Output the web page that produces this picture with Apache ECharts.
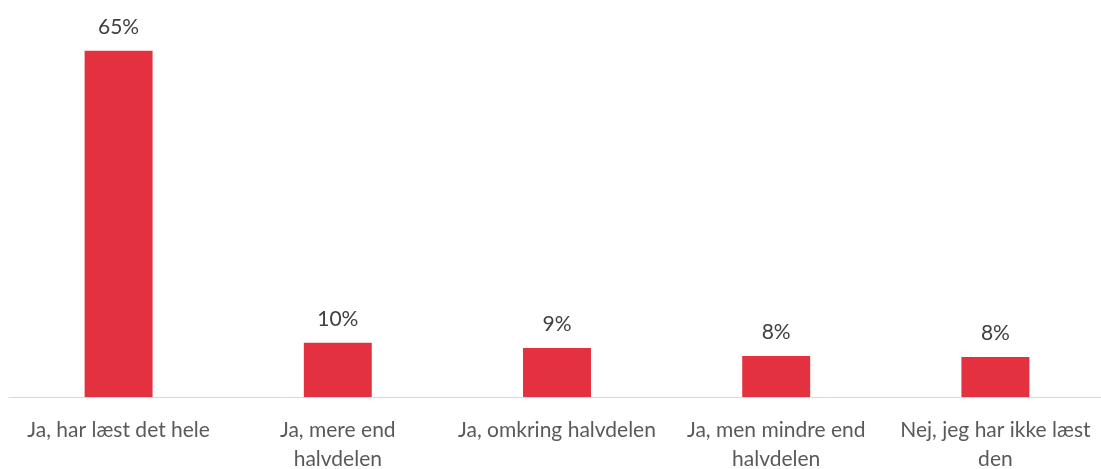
<!DOCTYPE html>
<html>
<head>
<meta charset="utf-8">
<script src="https://cdn.jsdelivr.net/npm/echarts@6/dist/echarts.min.js"></script>
<style>
  html, body { margin: 0; padding: 0; background: #fff; }
  #chart { width: 1101px; height: 469px; }
</style>
</head>
<body>
<div id="chart"></div>
<script>
// kategorier (med linjeskift som i originalen)
var categories = [
  'Ja, har læst det hele',
  'Ja, mere end\nhalvdelen',
  'Ja, omkring halvdelen',
  'Ja, men mindre end\nhalvdelen',
  'Nej, jeg har ikke læst\nden'
];
// andele i procent
var values = [65, 10.2, 9.2, 7.7, 7.5];

var chart = echarts.init(document.getElementById('chart'));

var option = {
  animation: false,
  grid: { left: 9, right: -4, top: 24, bottom: 72, outerBoundsMode: 'none' },
  xAxis: {
    type: 'category',
    data: categories,
    axisLine: { lineStyle: { color: '#d9d9d9', width: 1 } },
    axisTick: { show: false },
    axisLabel: {
      interval: 0,
      margin: 19,
      color: '#595959',
      fontFamily: 'Lato',
      fontSize: 21,
      lineHeight: 29
    }
  },
  yAxis: {
    type: 'value',
    min: 0,
    max: 70,
    show: false,
    splitLine: { show: false }
  },
  series: [{
    type: 'bar',
    data: values,
    barWidth: '31%',
    itemStyle: { color: '#e3313f' },
    label: {
      show: true,
      position: 'top',
      distance: 13,
      color: '#404040',
      fontFamily: 'Lato',
      fontSize: 21,
      formatter: function (p) { return Math.round(p.value) + '%'; }
    }
  }]
};

chart.setOption(option);
</script>
</body>
</html>
